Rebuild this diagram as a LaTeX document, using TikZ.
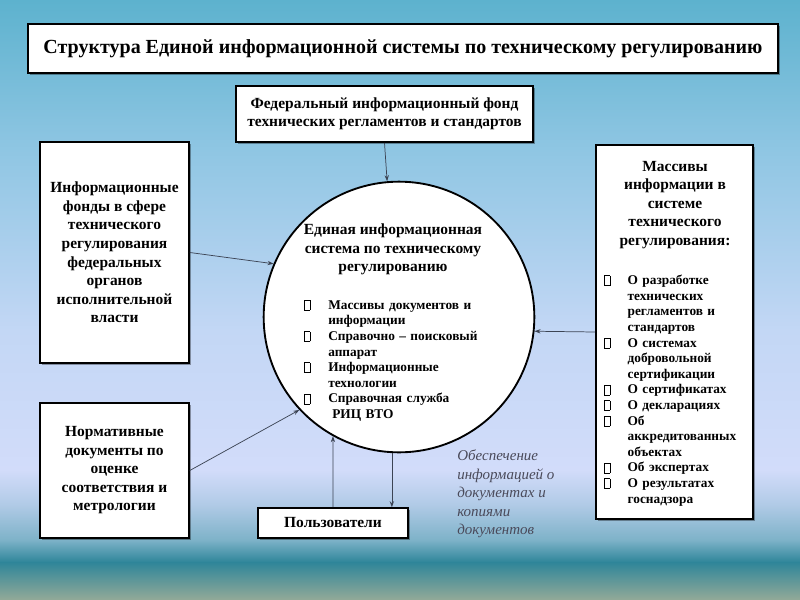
\documentclass[tikz,border=0pt]{standalone}
\usepackage{fontspec}
\setmainfont{Liberation Serif}
\usetikzlibrary{arrows.meta,shadows}

\definecolor{c0}{HTML}{5DB2CE}
\definecolor{c1}{HTML}{8FC6E3}
\definecolor{c2}{HTML}{C3D7F5}
\definecolor{c3}{HTML}{D2DCFA}
\definecolor{c4}{HTML}{B0CAE6}
\definecolor{c5}{HTML}{7DB2C8}
\definecolor{c6}{HTML}{2E8599}
\definecolor{c7}{HTML}{93AA98}
\definecolor{arrc}{HTML}{3C4454}
\definecolor{notec}{HTML}{4A4A5A}

\newcommand\fmain{\fontsize{11.6pt}{13.9pt}\selectfont\bfseries}
\newcommand\ftitle{\fontsize{15pt}{18pt}\selectfont\bfseries}
\newcommand\fsmall{\fontsize{10pt}{11.7pt}\selectfont\bfseries}
\newcommand\fnote{\fontsize{11.25pt}{13.9pt}\selectfont\itshape}
\newcommand\bul{\raisebox{-0.5pt}{\setlength\fboxsep{0pt}\setlength\fboxrule{0.4pt}\fbox{\rule{0pt}{7pt}\rule{3.6pt}{0pt}}}}
\newcommand\itm[2][18pt]{\par\noindent\hangindent=#1\hangafter=1\makebox[#1][l]{\bul}#2\par}

\begin{document}
\begin{tikzpicture}[x=0.75pt,y=-0.75pt,
  box/.style={draw=black, line width=1.2pt, fill=white, inner sep=0pt, align=center, font=\fmain,
    drop shadow={shadow xshift=1.2pt, shadow yshift=-1.2pt, fill=black, opacity=0.35}},
  arr/.style={draw=arrc, line width=0.55pt, -{Stealth[length=4.5pt,width=3.2pt]}},
  txt/.style={inner sep=0pt},
]
\useasboundingbox (0,0) rectangle (800,600);
\fill[top color=c0,bottom color=c1] (0,0) rectangle (800,150.5);
\fill[top color=c1,bottom color=c2] (0,150) rectangle (800,330.5);
\fill[top color=c2,bottom color=c3] (0,330) rectangle (800,470.5);
\fill[top color=c3,bottom color=c4] (0,470) rectangle (800,505.5);
\fill[top color=c4,bottom color=c5] (0,505) rectangle (800,540.5);
\fill[top color=c5,bottom color=c6] (0,540) rectangle (800,562.5);
\fill[top color=c6,bottom color=c7] (0,562) rectangle (800,600);

\node[box, minimum width=562.5pt, minimum height=36.75pt, font=\ftitle] (title) at (403,48.5)
  {Структура Единой информационной системы по техническому регулированию};
\node[box, minimum width=222.75pt, minimum height=42pt] (fed) at (384.5,114)
  {Федеральный информационный фонд\\технических регламентов и стандартов};
\node[box, minimum width=111.75pt, minimum height=165.75pt] (lb1) at (114.5,252.5)
  {Информационные\\фонды в сфере\\технического\\регулирования\\федеральных\\органов\\исполнительной\\власти};
\node[box, minimum width=111.75pt, minimum height=101.25pt] (lb2) at (114.5,470.5)
  {Нормативные\\документы по\\оценке\\соответствия и\\метрологии};
\node[box, minimum width=117.75pt, minimum height=280.5pt] (rb) at (674.5,332) {};
\node[box, minimum width=112.5pt, minimum height=22.5pt] (users) at (333,523) {Пользователи};
\node[circle, draw=black, line width=1.4pt, fill=white, minimum size=203pt, inner sep=0pt] (C) at (399,317) {};

\node[txt, align=center, font=\fmain] (ctitle) at (393,249.5)
  {Единая информационная\\система по техническому\\регулированию};
\node[txt, anchor=west, font=\fsmall, text width=140pt, align=left] (clist) at (304,357.5)
  {\itm{Массивы документов и\newline информации}
   \itm{Справочно – поисковый\newline аппарат}
   \itm{Информационные\newline технологии}
   \itm{Справочная служба\newline \hspace*{3pt}РИЦ ВТО}};

\node[txt, align=center, font=\fmain] (rtitle) at (675,205)
  {Массивы\\информации в\\системе\\технического\\регулирования:};
\node[txt, anchor=west, font=\fsmall, text width=130pt, align=left] (rlist) at (604,387.5)
  {\itm[17.5pt]{О разработке\newline технических\newline регламентов и\newline стандартов}
   \itm[17.5pt]{О системах\newline добровольной\newline сертификации}
   \itm[17.5pt]{О сертификатах}
   \itm[17.5pt]{О декларациях}
   \itm[17.5pt]{Об\newline аккредитованных\newline объектах}
   \itm[17.5pt]{Об экспертах}
   \itm[17.5pt]{О результатах\newline госнадзора}};

\node[txt, anchor=west, align=left, font=\fnote, text=notec] (note) at (457,494)
  {Обеспечение\\информацией о\\документах и\\копиями\\документов};

\draw[arr] (fed.south) -- (C.95.7);
\draw[arr] (lb1.east) -- (C.157.5);
\draw[arr] (lb2.east) -- (C.223);
\draw[arr] (rb.west) -- (C.-6.4);
\draw[arr] (users.north) -- (C.241.2);
\draw[arr] (C.267.9) -- (C.267.9 |- users.north);
\end{tikzpicture}
\end{document}
